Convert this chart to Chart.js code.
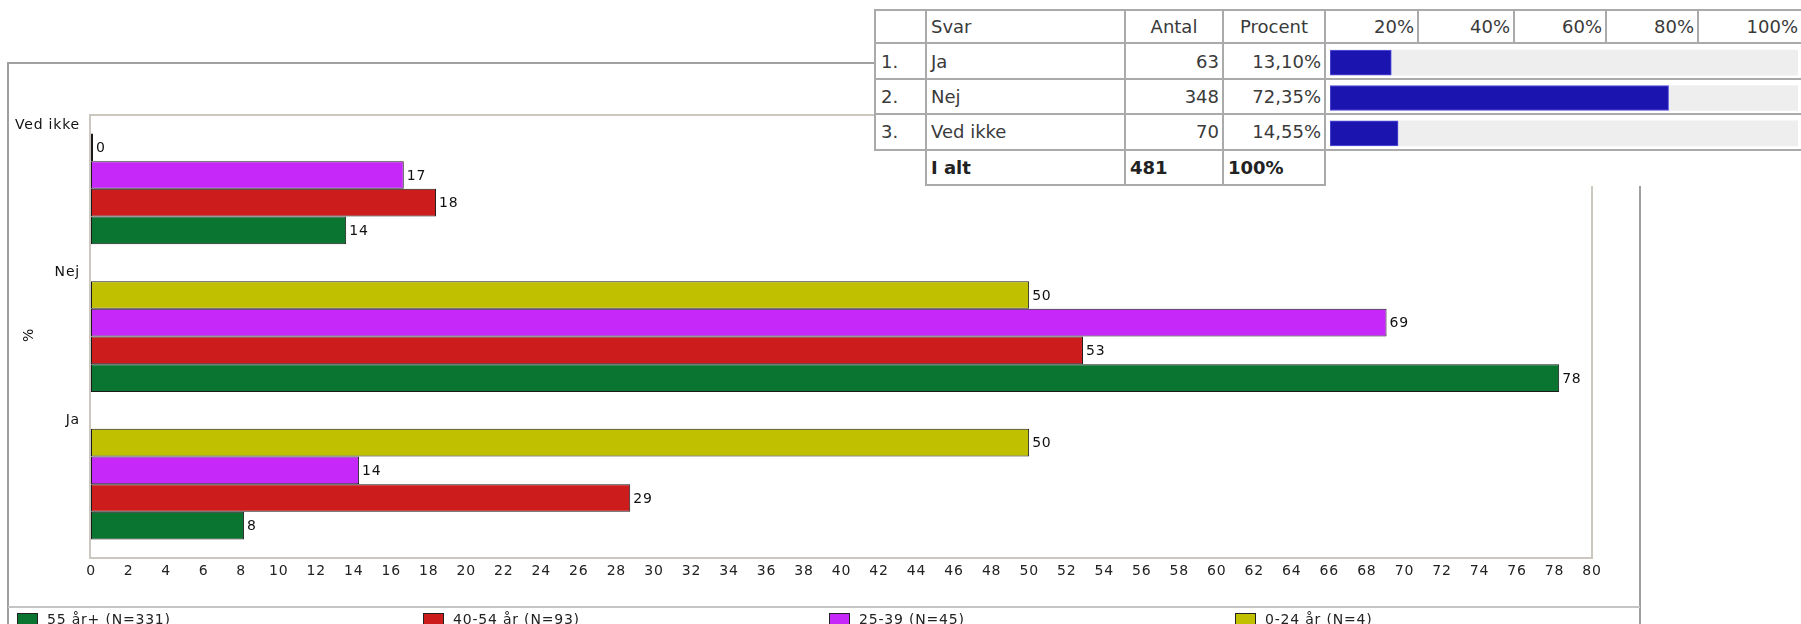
<!DOCTYPE html>
<html lang="da">
<head>
<meta charset="utf-8">
<title>Svar fordelt på alder</title>
<script src="https://cdn.jsdelivr.net/npm/chart.js@4.4.1/dist/chart.umd.min.js"></script>
<style>
  body { margin: 0; background: #fff; }
  #ramme { position: relative; width: 1801px; height: 624px; overflow: hidden; }
  #grafik { position: absolute; left: 0; top: 0; }
  #tabel { position: absolute; left: 874px; top: 9px; background: #fff; z-index: 2; }
  #tabelGrafik { position: absolute; left: 1326px; top: 45px; z-index: 3; }
  table { border-collapse: separate; border-spacing: 0; table-layout: fixed; width: 927px;
          font-family: "DejaVu Sans", sans-serif; font-size: 18px; color: #3a3a3a; }
  td { border-right: 2px solid #aaa; border-bottom: 2px solid #aaa; padding: 0 4px;
       white-space: nowrap; overflow: hidden; box-sizing: border-box; }
  tr { height: 35.4px; }
  tr.hoved td { border-top: 2px solid #aaa; }
  td.nr { border-left: 2px solid #aaa; padding-left: 5px; }
  td.hoejre { text-align: right; padding-right: 3px; }
  td.midt { text-align: center; }
  td.sidste { border-right: none; }
  td.tom { border-left: none; border-bottom: none; }
  td.fed { font-weight: bold; color: #222; }
</style>
</head>
<body>
<div id="ramme">
  <canvas id="grafik" width="1801" height="624"></canvas>
  <div id="tabel"></div>
  <canvas id="tabelGrafik" width="475" height="106"></canvas>
</div>
<script>
// Kategorier og aldersgrupper
const kategorier = ["Ved ikke", "Nej", "Ja"];
const grupper = ["0-24 år (N=4)", "25-39 (N=45)", "40-54 år (N=93)", "55 år+ (N=331)"];
const farver = ["#c0c000", "#c528f9", "#cd1c1c", "#0a7530"];

// Procent pr. gruppe (Ved ikke, Nej, Ja)
const pct0_24 = [0, 50, 50];
const pct25_39 = [16.67, 69.05, 14.29];
const pct40_54 = [18.39, 52.87, 28.74];
const pct55 = [13.6, 78.25, 8.16];

// Tabeldata
const svar = ["Ja", "Nej", "Ved ikke"];
const antal = [63, 348, 70];
const procent = [13.10, 72.35, 14.55];
const iAlt = 481;
const skalaEtiketter = ["20%", "40%", "60%", "80%", "100%"];
const sporLaengde = [100, 100, 100];

const skrift = "DejaVu Sans";
Chart.defaults.font.family = skrift;
Chart.defaults.font.size = 14;
Chart.defaults.color = "#222";

// Ramme, kategorinavne, værdier og forklaring tegnes med et lille plugin
const rammePlugin = {
  id: "ramme",
  beforeDraw(chart) {
    const c = chart.ctx;
    c.letterSpacing = "0.8px";
    c.save();
    c.fillStyle = "#fff";
    c.fillRect(0, 0, chart.width, chart.height);
    c.strokeStyle = "#a0a0a0";
    c.lineWidth = 2;
    c.strokeRect(8, 63, 1632, 800);
    c.strokeStyle = "#c4c4c4";
    c.beginPath();
    c.moveTo(8, 607);
    c.lineTo(1640, 607);
    c.stroke();
    c.restore();
  },
  beforeDatasetsDraw(chart) {
    const c = chart.ctx;
    const a = chart.chartArea;
    c.save();
    c.strokeStyle = "#ccc8c0";
    c.lineWidth = 2;
    c.strokeRect(a.left - 1, a.top, a.right - a.left + 1, a.bottom - a.top);
    c.restore();
  },
  afterDatasetsDraw(chart) {
    const c = chart.ctx;
    const a = chart.chartArea;
    const y = chart.scales.y;
    c.save();
    c.font = "14px " + skrift;
    c.fillStyle = "#111";
    c.textBaseline = "middle";

    // værdier ved enden af søjlerne
    c.textAlign = "left";
    chart.data.datasets.forEach((ds, i) => {
      chart.getDatasetMeta(i).data.forEach((el, j) => {
        c.fillText(String(Math.round(ds.data[j])), el.x + 3, el.y + 1);
      });
    });

    // kategorinavne i toppen af hvert bånd
    const baand = (a.bottom - a.top) / kategorier.length;
    c.textAlign = "right";
    kategorier.forEach((k, i) => {
      c.fillText(k, a.left - 11, y.getPixelForValue(i) - baand / 2 + 10);
    });

    // aksetitel
    c.save();
    c.translate(29, 335);
    c.rotate(-Math.PI / 2);
    c.textAlign = "center";
    c.fillText("%", 0, 0);
    c.restore();

    // forklaring nederst (omvendt rækkefølge)
    c.textAlign = "left";
    const ds = chart.data.datasets.slice().reverse();
    ds.forEach((d, i) => {
      const x = 17 + i * 406;
      c.fillStyle = d.backgroundColor;
      c.fillRect(x, 613, 21, 21);
      c.strokeStyle = "#222";
      c.lineWidth = 1;
      c.strokeRect(x + 0.5, 613.5, 20, 20);
      c.fillStyle = "#222";
      c.fillText(d.label, x + 30, 620);
    });
    c.restore();
  }
};

const datasets = [pct0_24, pct25_39, pct40_54, pct55].map((data, i) => ({
  label: grupper[i],
  data: data,
  backgroundColor: farver[i],
  borderColor: "#1a1a1a",
  borderWidth: 1,
  borderSkipped: false,
  minBarLength: 2
}));

new Chart(document.getElementById("grafik").getContext("2d"), {
  type: "bar",
  data: { labels: kategorier, datasets: datasets },
  options: {
    indexAxis: "y",
    responsive: false,
    animation: false,
    layout: { padding: { left: 91, right: 209, top: 115, bottom: 0 } },
    datasets: { bar: { categoryPercentage: 0.75, barPercentage: 1.0 } },
    scales: {
      x: {
        min: 0,
        max: 80,
        ticks: { stepSize: 2, autoSkip: false, maxRotation: 0, padding: 5, color: "#222" },
        grid: { display: false, drawTicks: false },
        border: { display: false },
        afterFit: (s) => { s.height = 66; }
      },
      y: { display: false }
    },
    plugins: { legend: { display: false }, tooltip: { enabled: false } }
  },
  plugins: [rammePlugin]
});

// Tabellen øverst til højre
function lavTabel() {
  let html = '<table><colgroup>';
  [53, 199, 98, 102, 93, 96, 92, 92, 102].forEach(w => { html += '<col style="width:' + w + 'px">'; });
  html += '</colgroup>';
  html += '<tr class="hoved"><td class="nr"></td><td>Svar</td><td class="midt">Antal</td><td class="midt">Procent</td>';
  skalaEtiketter.forEach((s, i) => {
    html += '<td class="hoejre' + (i === skalaEtiketter.length - 1 ? ' sidste' : '') + '">' + s + '</td>';
  });
  html += '</tr>';
  svar.forEach((s, i) => {
    html += '<tr><td class="nr">' + (i + 1) + '.</td><td>' + s + '</td>' +
      '<td class="hoejre">' + antal[i] + '</td>' +
      '<td class="hoejre">' + procent[i].toFixed(2).replace(".", ",") + '%</td>' +
      '<td class="sidste" colspan="5"></td></tr>';
  });
  html += '<tr><td class="tom"></td><td class="fed">I alt</td><td class="fed">' + iAlt +
    '</td><td class="fed">100%</td><td class="tom sidste" colspan="5"></td></tr>';
  html += '</table>';
  document.getElementById("tabel").innerHTML = html;
}
lavTabel();

new Chart(document.getElementById("tabelGrafik").getContext("2d"), {
  type: "bar",
  data: {
    labels: svar,
    datasets: [
      {
        data: procent,
        backgroundColor: "#1c14ae",
        borderColor: "#5a56e0",
        borderWidth: 1,
        borderSkipped: false,
        grouped: false,
        order: 0,
        barThickness: 25
      },
      {
        data: sporLaengde,
        backgroundColor: "#eeeeee",
        borderWidth: 0,
        grouped: false,
        order: 1,
        barThickness: 25
      }
    ]
  },
  options: {
    indexAxis: "y",
    responsive: false,
    animation: false,
    layout: { padding: { left: 4, right: 3, top: 0, bottom: 0 } },
    scales: {
      x: { display: false, min: 0, max: 100 },
      y: { display: false }
    },
    plugins: { legend: { display: false }, tooltip: { enabled: false } }
  }
});
</script>
</body>
</html>
